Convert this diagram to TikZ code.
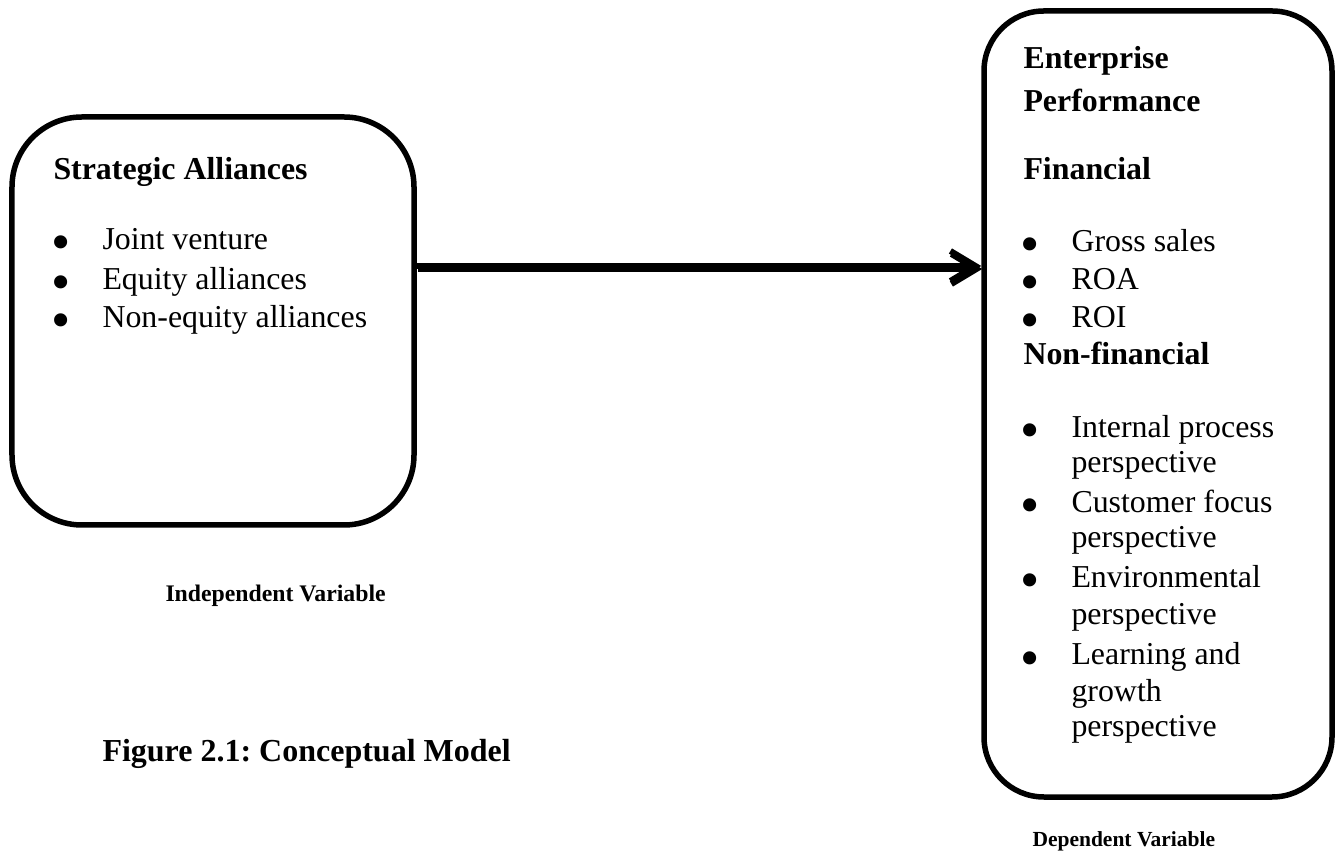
\documentclass[tikz,border=0pt]{standalone}
\usepackage{fontspec}
\setmainfont{Liberation Serif}
\usetikzlibrary{arrows.meta, positioning, calc}
\definecolor{shade}{HTML}{A6A6A6}
\frenchspacing

\begin{document}
\begin{tikzpicture}[x=0.4pt, y=-0.4pt,
  varbox/.style={draw=black, line width=2.2pt, inner sep=0pt},
  head/.style={anchor=base west, inner sep=0pt, font=\fontsize{12.75}{15}\selectfont\bfseries},
  item/.style={anchor=base west, inner sep=0pt, font=\fontsize{12.75}{15}\selectfont},
  dot/.style={anchor=base west, inner sep=0pt, font=\fontsize{12.75}{15}\selectfont},
  label/.style={anchor=base west, inner sep=0pt, font=\fontsize{#1}{#1}\selectfont\bfseries},
  link/.style={line width=2.6pt, -{Straight Barb[length=10pt, width=12pt, line width=2.4pt]}},
  shadow/.style={shade, transform canvas={xshift=0.4pt, yshift=-1.2pt}}
]

% Page (pixel grid, y grows downward)
\fill[white] (0,0) rectangle (1335,851);
\path[use as bounding box] (0,0) rectangle (1335,851);

% Boxes
\node[varbox, rounded corners=28pt, minimum width=160.8pt, minimum height=163.2pt] (alli) at (213,321) {};
\node[varbox, rounded corners=24pt, minimum width=139.2pt, minimum height=314.4pt] (perf) at (1158,404) {};

% Link between the variables
\coordinate (lnk) at (0,266);
\draw[link, shadow] (alli.east |- lnk) -- (perf.west |- lnk);
\draw[link] (alli.east |- lnk) -- (perf.west |- lnk);

% Independent variable
\node[head] (alli-t) at (53,180) {Strategic Alliances};
\foreach \yy/\txt [count=\i] in {250/Joint venture, 290/Equity alliances, 328/Non-equity alliances} {
  \node[dot] (alli-d\i) at (51.5,\yy) {\raisebox{-4.4pt}[0pt][0pt]{\scalebox{1.72}{\textbullet}}};
  \node[item] (alli-i\i) at (102,\yy) {\txt};
}

% Dependent variable
\node[head] (perf-t1) at (1023,69) {Enterprise};
\node[head] (perf-t2) at (1023,112) {Performance};
\node[head] (perf-f) at (1023,180) {Financial};
\foreach \yy/\txt [count=\i] in {252/Gross sales, 290/ROA, 328/ROI} {
  \node[dot] (perf-fd\i) at (1020,\yy) {\raisebox{-4.4pt}[0pt][0pt]{\scalebox{1.72}{\textbullet}}};
  \node[item] (perf-fi\i) at (1071,\yy) {\txt};
}
\node[head] (perf-n) at (1023,365) {Non-financial};
\foreach \yy [count=\i] in {438,513,588,665} {
  \node[dot] (perf-nd\i) at (1020,\yy) {\raisebox{-4.4pt}[0pt][0pt]{\scalebox{1.72}{\textbullet}}};
}
\foreach \yy/\txt [count=\i] in {438/Internal process, 473/perspective, 513/Customer focus, 548/perspective,
    588/Environmental, 625/perspective, 665/Learning and, 702/growth, 737/perspective} {
  \node[item] (perf-ni\i) at (1071,\yy) {\txt};
}

% Labels
\node[label=9.5] (indep) at (165,602) {Independent Variable};
\node[label=8.6] (dep) at (1032,847) {Dependent Variable};
\node[label=12.8] (caption) at (102,762) {Figure 2.1: Conceptual Model};

\end{tikzpicture}
\end{document}
